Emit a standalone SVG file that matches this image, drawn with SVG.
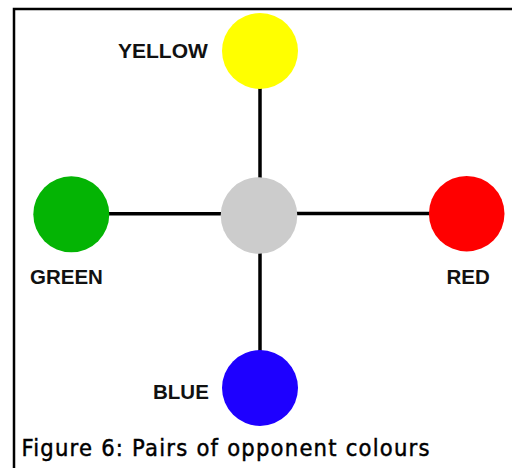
<svg xmlns="http://www.w3.org/2000/svg" width="512" height="468" viewBox="0 0 512 468">
<style>
.lbl{font-family:"Liberation Sans",Arial,sans-serif;font-weight:bold;font-size:20.5px;fill:#111}
.cap{font-family:"DejaVu Sans Condensed","DejaVu Sans",sans-serif;font-size:23.5px;fill:#000;stroke:#000;stroke-width:0.45}
.conn line{stroke:#000;stroke-width:3.5}
</style>
<rect x="0" y="0" width="512" height="468" fill="#fff"/>
<path d="M14 470 V9 H514" fill="none" stroke="#000" stroke-width="2.5"/>
<g id="connectors" class="conn">
<line x1="260" y1="88" x2="260" y2="178"/>
<line x1="260" y1="253" x2="260" y2="351"/>
<line x1="108" y1="213.8" x2="222" y2="213.8"/>
<line x1="296" y1="213.5" x2="430" y2="213.5"/>
</g>
<g id="center"><circle cx="259" cy="215.5" r="38.3" fill="#cccccc"/></g>
<g id="yellow"><circle cx="260" cy="51" r="38" fill="#ffff00"/><text class="lbl" x="118" y="58" style="font-size:21px">YELLOW</text></g>
<g id="green"><circle cx="71.3" cy="214.3" r="38" fill="#04b404"/><text class="lbl" x="30" y="283.5">GREEN</text></g>
<g id="red"><circle cx="466.7" cy="213.7" r="37.8" fill="#ff0000"/><text class="lbl" x="446.5" y="283.5">RED</text></g>
<g id="blue"><circle cx="260" cy="388" r="38" fill="#1e00ff"/><text class="lbl" x="153" y="399">BLUE</text></g>
<text class="cap" x="21.5" y="456" textLength="408" lengthAdjust="spacing">Figure 6: Pairs of opponent colours</text>
</svg>
